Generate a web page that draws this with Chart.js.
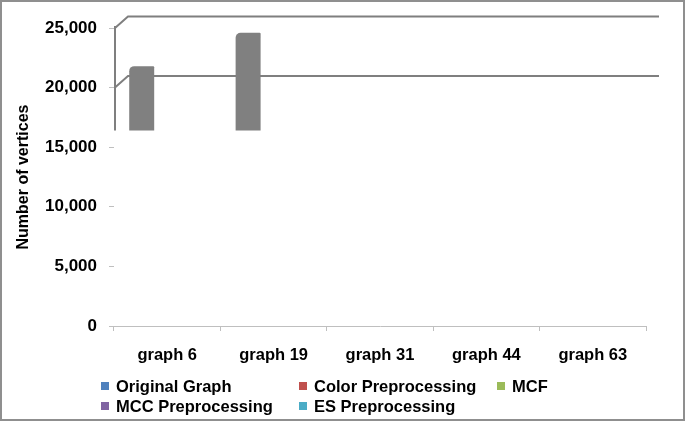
<!DOCTYPE html>
<html><head><meta charset="utf-8">
<script src="https://cdn.jsdelivr.net/npm/chart.js@4"></script>
<style>
html,body{margin:0;padding:0;background:#fff;}
#wrap{position:relative;width:685px;height:421px;overflow:hidden;background:#fff;}
#c{position:absolute;left:0;top:0;}
#frame{position:absolute;left:0;top:0;width:685px;height:421px;box-sizing:border-box;border:2px solid #8f8f8f;pointer-events:none;}
#legend{position:absolute;left:101px;top:376px;display:grid;grid-template-columns:198px 198px 198px;grid-auto-rows:20px;font:bold 16.5px "Liberation Sans",Arial,sans-serif;color:#000;}
.item{display:flex;align-items:center;white-space:nowrap;}
.box{width:8px;height:8px;margin-right:7px;flex:none;}
</style></head>
<body><div id="wrap"><canvas id="c" width="685" height="421"></canvas><div id="legend"></div><div id="frame"></div></div>
<script>
// ---- data ----
const categories = ['graph 6', 'graph 19', 'graph 31', 'graph 44', 'graph 63'];
const seriesNames = ['Original Graph', 'Color Preprocessing', 'MCF', 'MCC Preprocessing', 'ES Preprocessing'];
const seriesColors = ['#4F81BD', '#C0504D', '#9BBB59', '#8064A2', '#4BACC6'];
const originalGraph = [null, null, null, null, null];
const colorPreprocessing = [null, null, null, null, null];
const mcf = [null, null, null, null, null];
const mccPreprocessing = [null, null, null, null, null];
const esPreprocessing = [null, null, null, null, null];
const seriesValues = [originalGraph, colorPreprocessing, mcf, mccPreprocessing, esPreprocessing];
// gray floating bars visible in the picture
const grayBarLow = [16400, 16400, null, null, null];
const grayBarHigh = [21800, 24600, null, null, null];
// back-wall lines (3D remnants)
const backWallLines = [20000, 25000];
const wallBottom = 16400;
const yTicks = [0, 5000, 10000, 15000, 20000, 25000];

// ---- style ----
const depthX = 13, depthY = 11.5;
const FONT = '"Liberation Sans", Arial, sans-serif';

const wallPlugin = {
  id: 'wall',
  beforeDatasetsDraw(chart) {
    const { ctx, chartArea, scales: { y } } = chart;
    ctx.save();
    ctx.strokeStyle = '#7f7f7f';
    ctx.lineWidth = 2;
    const L = chartArea.left + 1, R = chartArea.right;
    backWallLines.forEach(v => {
      const py = y.getPixelForValue(v);
      ctx.beginPath();
      ctx.moveTo(L, py);
      ctx.lineTo(L + depthX, py - depthY);
      ctx.lineTo(R + depthX, py - depthY);
      ctx.stroke();
    });
    ctx.beginPath();
    ctx.moveTo(L, y.getPixelForValue(Math.max(...backWallLines)) - 2);
    ctx.lineTo(L, y.getPixelForValue(wallBottom));
    ctx.stroke();
    ctx.restore();
  }
};

const datasets = [{
  label: '',
  data: categories.map((_, i) => grayBarLow[i] == null ? null : [grayBarLow[i], grayBarHigh[i]]),
  backgroundColor: '#808080',
  categoryPercentage: 0.575,
  barPercentage: 2.45,
  borderSkipped: false,
  borderRadius: { topLeft: 5, topRight: 1, bottomLeft: 0, bottomRight: 0 }
}].concat(seriesNames.map((n, k) => ({
  label: n,
  data: seriesValues[k],
  backgroundColor: seriesColors[k],
  categoryPercentage: 0.575,
  barPercentage: 1
})));

new Chart(document.getElementById('c'), {
  type: 'bar',
  data: { labels: categories, datasets },
  options: {
    responsive: false,
    animation: false,
    devicePixelRatio: 1,
    layout: { padding: { top: 28, right: 39, bottom: 50, left: 0 } },
    plugins: { legend: { display: false }, tooltip: { enabled: false } },
    scales: {
      x: {
        ticks: { font: { family: FONT, size: 16.5, weight: 'bold' }, color: '#000', padding: 15, maxRotation: 0 },
        grid: { offset: true, drawOnChartArea: false, tickLength: 5, color: '#bfbfbf' },
        border: { display: true, color: '#bfbfbf', width: 1 },
        afterFit: s => { s.height = 45; }
      },
      y: {
        min: 0, max: 25000,
        afterBuildTicks: s => { s.ticks = yTicks.map(v => ({ value: v })); },
        ticks: {
          font: { family: FONT, size: 17, weight: 'bold' }, color: '#000', padding: 12,
          callback: v => Number(v).toLocaleString('en-US')
        },
        grid: { drawOnChartArea: false, tickLength: 5, color: '#bfbfbf' },
        border: { display: false },
        title: {
          display: true, text: 'Number of vertices', color: '#000',
          font: { family: FONT, size: 16, weight: 'bold' },
          padding: { top: 14, bottom: 0 }
        },
        afterFit: s => { s.width = 114; }
      }
    }
  },
  plugins: [wallPlugin]
});

const lg = document.getElementById('legend');
seriesNames.forEach((n, k) => {
  const it = document.createElement('div');
  it.className = 'item';
  const b = document.createElement('span');
  b.className = 'box';
  b.style.background = seriesColors[k];
  const t = document.createElement('span');
  t.textContent = n;
  it.appendChild(b); it.appendChild(t);
  lg.appendChild(it);
});
</script>
</body></html>
